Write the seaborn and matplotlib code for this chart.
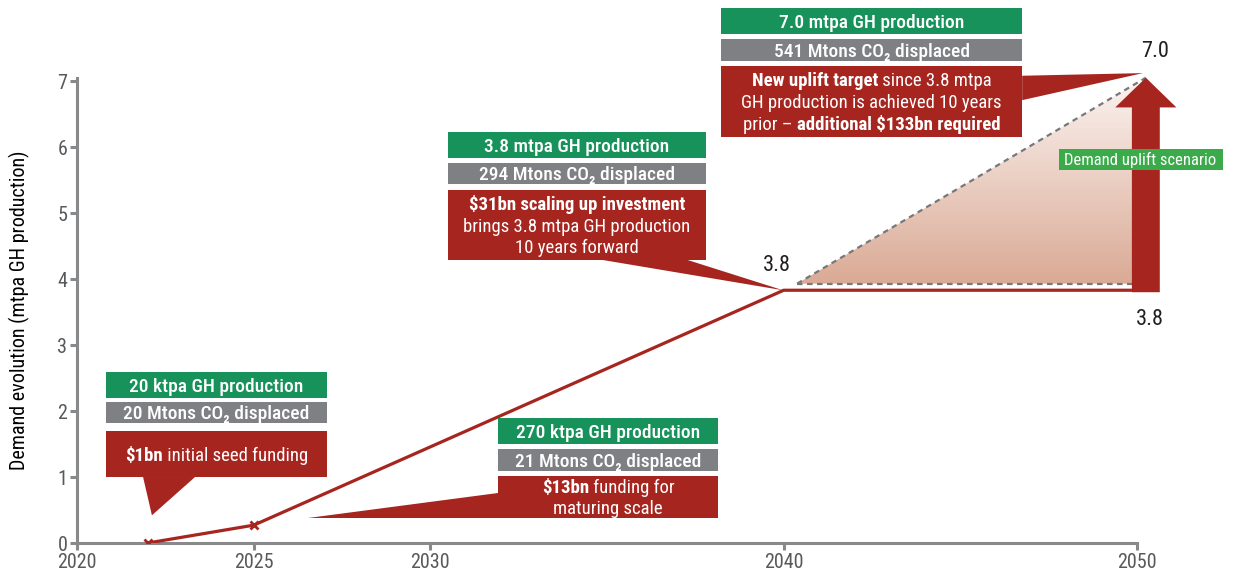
import numpy as np
import matplotlib
matplotlib.use("Agg")
import matplotlib.pyplot as plt
import seaborn as sns
from matplotlib import font_manager
from matplotlib.colors import LinearSegmentedColormap
from matplotlib.patches import Rectangle, Polygon, FancyArrow

# Datos
anios = [2022, 2025, 2040, 2050]
demanda = [0.0, 0.27, 3.83, 3.83]
anios_marca = [2022, 2025]
objetivo_anio = 2050.25
objetivo_base = 3.80
objetivo_valor = 7.05
meseta = 3.93
x_ticks = [2020, 2025, 2030, 2040, 2050]
y_ticks = [0, 1, 2, 3, 4, 5, 6, 7]

ROJO = "#A6251F"
VERDE = "#17925A"
GRIS = "#7F8083"
VERDE_CLARO = "#3BAA4A"
EJE = "#88898B"

sns.set_style("ticks")
disponibles = {f.name for f in font_manager.fontManager.ttflist}
FUENTE = "Roboto"
for fam in ["Roboto Condensed", "Liberation Sans Narrow", "Roboto"]:
    if fam in disponibles:
        FUENTE = fam
        break
plt.rcParams["font.family"] = [FUENTE, "DejaVu Sans"]

fig = plt.figure(figsize=(12.34, 5.77), dpi=100)
ax = fig.add_axes([0.0624, 0.0589, 0.859, 0.8064])
renderer = fig.canvas.get_renderer()

# Linea de demanda
sns.lineplot(x=anios, y=demanda, color=ROJO, linewidth=2.3, ax=ax, zorder=4)
ax.plot(anios_marca, demanda[:2], linestyle="none", marker="x", color=ROJO,
        markersize=6, markeredgewidth=2, zorder=5)

# Triangulo con degradado
tri = Polygon([(2040.38, meseta), (objetivo_anio, objetivo_valor), (objetivo_anio, meseta)],
              closed=True, facecolor="none", edgecolor="none")
ax.add_patch(tri)
cmap = LinearSegmentedColormap.from_list("deg", ["#DAAA95", "#FBF3F0"])
grad = np.linspace(0, 1, 256).reshape(-1, 1)
img = ax.imshow(grad, cmap=cmap, origin="lower", aspect="auto",
                extent=[2040.38, objetivo_anio, meseta, objetivo_valor], zorder=1)
img.set_clip_path(tri)
ax.plot([2040.38, objetivo_anio], [meseta, objetivo_valor], color="#77787A",
        linewidth=1.6, linestyle=(0, (2.5, 2)), zorder=2, clip_on=False)
ax.plot([2040.38, objetivo_anio], [meseta, meseta], color="#77787A",
        linewidth=1.6, linestyle=(0, (2.5, 2)), zorder=2, clip_on=False)

# Flecha de escenario
flecha = FancyArrow(objetivo_anio, objetivo_base, 0, objetivo_valor - objetivo_base,
                    width=0.79, head_width=1.73, head_length=0.45,
                    length_includes_head=True, color=ROJO, linewidth=0,
                    zorder=6, clip_on=False)
ax.add_patch(flecha)

ax.text(2050.5, 7.45, "7.0", fontsize=16, color="#231F20", ha="center", va="center", clip_on=False)
ax.text(2050.37, 3.38, "3.8", fontsize=16, color="#231F20", ha="center", va="center", clip_on=False)
ax.text(2039.8, 4.21, "3.8", fontsize=16, color="#231F20", ha="center", va="center", clip_on=False)

ax.add_patch(Rectangle((2047.79, 5.65), 4.65, 0.32, facecolor=VERDE_CLARO,
                       edgecolor="none", zorder=7, clip_on=False))
ax.text(2050.1, 5.81, "Demand uplift scenario", fontsize=12, color="white",
        ha="center", va="center", zorder=8, clip_on=False)


def linea_rica(x, y, partes, size):
    textos, anchos = [], []
    for s, w in partes:
        t = ax.annotate(s, xy=(x, y), xytext=(0, 0), textcoords="offset points",
                        ha="left", va="baseline", fontsize=size, fontweight=w,
                        color="white", annotation_clip=False, zorder=9)
        anchos.append(t.get_window_extent(renderer).width * 72 / fig.dpi)
        textos.append(t)
    off = -sum(anchos) / 2
    for t, a in zip(textos, anchos):
        t.xyann = (off, -0.36 * size)
        off += a


def caja(x0, x1, verde, gris, rojo, t_verde, t_gris, lineas, cola, size=14):
    xc = (x0 + x1) / 2
    for (y0, y1), color, txt in [(verde, VERDE, t_verde), (gris, GRIS, t_gris)]:
        ax.add_patch(Rectangle((x0, y0), x1 - x0, y1 - y0, facecolor=color,
                               edgecolor="none", zorder=7, clip_on=False))
        linea_rica(xc, (y0 + y1) / 2, [(txt, "medium")], size)
    y0, y1 = rojo
    ax.add_patch(Rectangle((x0, y0), x1 - x0, y1 - y0, facecolor=ROJO,
                           edgecolor="none", zorder=7, clip_on=False))
    ax.add_patch(Polygon(cola, closed=True, facecolor=ROJO, edgecolor="none",
                         zorder=7, clip_on=False))
    n = len(lineas)
    paso = 0.33
    yc = (y0 + y1) / 2 + paso * (n - 1) / 2
    for i, partes in enumerate(lineas):
        linea_rica(xc, yc - i * paso, partes, size - 0.5)


caja(2020.82, 2027.08, (2.20, 2.59), (1.82, 2.14), (1.00, 1.70),
     "20 ktpa GH production", "20 Mtons CO₂ displaced",
     [[("$1bn", "bold"), (" initial seed funding", "normal")]],
     [(2021.87, 1.0), (2023.34, 1.0), (2022.12, 0.42)])

caja(2031.92, 2038.14, (1.50, 1.89), (1.09, 1.42), (0.38, 1.02),
     "270 ktpa GH production", "21 Mtons CO₂ displaced",
     [[("$13bn", "bold"), (" funding for", "normal")],
      [("maturing scale", "normal")]],
     [(2031.92, 0.76), (2031.92, 0.38), (2026.54, 0.38)])

caja(2030.50, 2037.80, (5.83, 6.23), (5.44, 5.76), (4.29, 5.35),
     "3.8 mtpa GH production", "294 Mtons CO₂ displaced",
     [[("$31bn scaling up investment", "bold")],
      [("brings 3.8 mtpa GH production", "normal")],
      [("10 years forward", "normal")]],
     [(2034.86, 4.29), (2037.27, 4.29), (2039.98, 3.83)])

caja(2038.23, 2046.75, (7.71, 8.11), (7.30, 7.64), (6.15, 7.23),
     "7.0 mtpa GH production", "541 Mtons CO₂ displaced",
     [[("New uplift target", "bold"), (" since 3.8 mtpa", "normal")],
      [("GH production is achieved 10 years", "normal")],
      [("prior – ", "normal"), ("additional $133bn required", "bold")]],
     [(2046.75, 7.08), (2046.75, 6.71), (2050.17, 7.12)])

# Ejes
ax.set_xlim(2020, 2050)
ax.set_ylim(0, 7.05)
ax.set_xticks(x_ticks)
ax.set_yticks(y_ticks)
sns.despine(ax=ax)
for lado in ["left", "bottom"]:
    ax.spines[lado].set_color(EJE)
    ax.spines[lado].set_linewidth(2.2)
ax.tick_params(axis="both", colors=EJE, width=2.2, length=5, labelsize=14.5,
               labelcolor="#58595B")
ax.tick_params(axis="y", pad=2)
ax.tick_params(axis="x", pad=2)
ax.set_ylabel("Demand evolution (mtpa GH production)", fontsize=14.5, color="black")
ax.yaxis.set_label_coords(-0.044, 0.5)

fig.savefig("out.png", dpi=100)
